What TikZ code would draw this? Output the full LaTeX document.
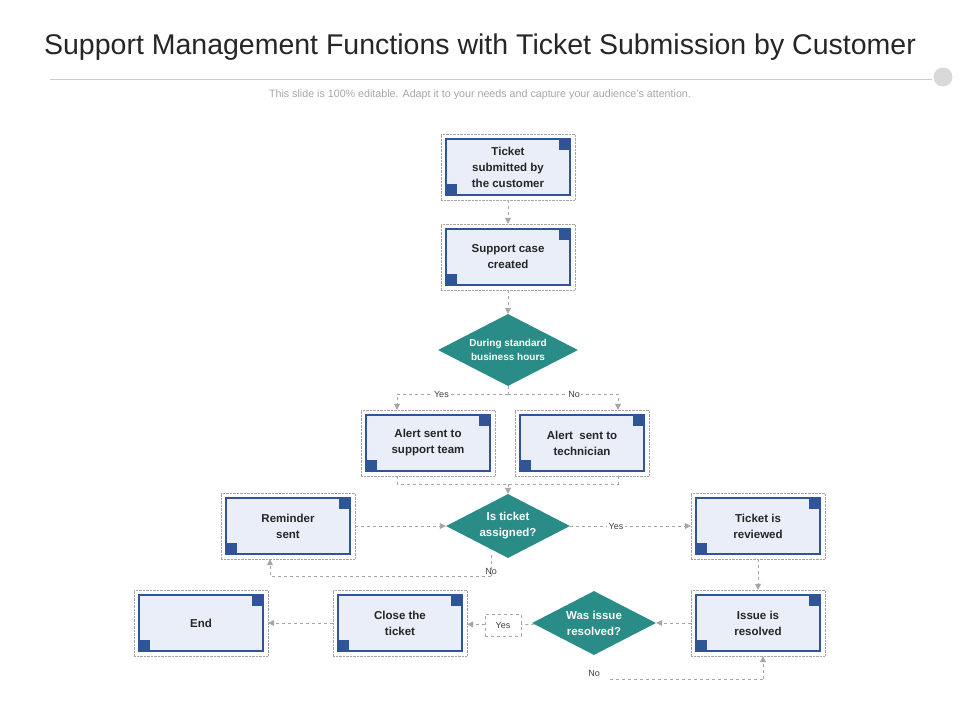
\documentclass[tikz,border=0pt]{standalone}
\usepackage{fontspec}
\setmainfont{Liberation Sans}
\usetikzlibrary{shapes.geometric,arrows.meta}
\definecolor{bord}{HTML}{2F5597}
\definecolor{bfill}{HTML}{E9EEF8}
\definecolor{teal}{HTML}{2A8C86}
\definecolor{conn}{HTML}{A6A6A6}
\begin{document}
\begin{tikzpicture}[x=1pt,y=-1pt,
  box/.style={draw=gray!70,densely dotted,minimum width=134pt,minimum height=66pt,
    path picture={
      \fill[bfill] ([shift={(4pt,4pt)}]path picture bounding box.south west) rectangle ([shift={(-4pt,-4pt)}]path picture bounding box.north east);
      \draw[bord,line width=2.5pt,solid] ([shift={(5pt,5pt)}]path picture bounding box.south west) rectangle ([shift={(-5pt,-5pt)}]path picture bounding box.north east);
      \fill[bord] ([shift={(5pt,5pt)}]path picture bounding box.south west) rectangle ++(11pt,11pt);
      \fill[bord] ([shift={(-5pt,-5pt)}]path picture bounding box.north east) rectangle ++(-11pt,-11pt);
    },
    font=\bfseries\fontsize{11.5}{16}\selectfont,align=center,text=black!85},
  dia/.style={diamond,fill=teal,inner sep=0pt,minimum width=#1,aspect=2,
    font=\bfseries\fontsize{10}{14}\selectfont,align=center,text=white},
  con/.style={draw=conn,dashed,line width=0.8pt,-{Triangle[length=6pt,width=6pt]}},
  lin/.style={draw=conn,dashed,line width=0.8pt},
  lab/.style={font=\fontsize{9}{10}\selectfont,text=black!75,fill=white,inner sep=1.5pt}]
\useasboundingbox (0,0) rectangle (960,720);
\node[font=\fontsize{28.5}{30}\selectfont,text=black!85] (title) at (480,47) {Support Management Functions with Ticket Submission by Customer};
\draw[gray!40,line width=1pt] (50,79) -- (932,79);
\node[circle,fill=gray!30,minimum size=19pt,inner sep=0pt] (dot) at (943,77) {};
\node[font=\fontsize{10.7}{12}\selectfont,text=gray!70] (sub) at (480,95) {This slide is 100\% editable. Adapt it to your needs and capture your audience's attention.};

\node[box] (t1) at (508,167) {Ticket\\submitted by\\the customer};
\node[box] (t2) at (508,257) {Support case\\created};
\node[dia=140pt,minimum height=72pt] (d1) at (508,350) {During standard\\business hours};
\node[box] (a1) at (428,443) {Alert sent to\\support team};
\node[box] (a2) at (582,443) {Alert\ \ sent to\\technician};
\node[dia=124pt,minimum height=64pt,font=\bfseries\fontsize{11.5}{16}\selectfont] (d2) at (508,526) {Is ticket\\assigned?};
\node[box] (r) at (288,526) {Reminder\\sent};
\node[box] (tr) at (758,526) {Ticket is\\reviewed};
\node[box] (ir) at (758,623) {Issue is\\resolved};
\node[dia=124pt,minimum height=64pt,font=\bfseries\fontsize{11.5}{16}\selectfont] (d3) at (594,623) {Was issue\\resolved?};
\node[box] (ct) at (400,623) {Close the\\ticket};
\node[box] (e) at (201,623) {End};

\coordinate (j1) at (508,394);
\coordinate (j2) at (508,484);
\draw[con] (t1) -- (t2);
\draw[con] (t2) -- (d1);
\draw[lin] (d1.south) -- (j1);
\draw[con] (j1) -| (a1.north -| 397,0) node[lab,pos=0.3] {Yes};
\draw[con] (j1) -| (a2.north -| 618,0) node[lab,pos=0.3] {No};
\draw[lin] (a1.south -| 397,0) |- (j2) -| (a2.south -| 618,0);
\draw[con] (j2) -- (d2.north);
\draw[con] (r) -- (d2);
\draw[con] (d2) -- node[lab,pos=0.38] {Yes} (tr);
\coordinate (n1) at (491,576);
\draw[lin] (491,555) -- (n1);
\draw[con] (n1) -| (r.south -| 270,0);
\node[lab,fill=none] (nol) at (491,571) {No};
\draw[con] (tr) -- (ir);
\draw[con] (ir) -- (d3);
\node[lab,draw=conn,dashed,minimum width=36pt,minimum height=22pt] (yl) at (503,625) {Yes};
\draw[lin] (d3) -- (yl);
\draw[con] (yl) -- (ct);
\draw[con] (ct) -- (e);
\node[lab] (no3) at (594,673) {No};
\coordinate (n3) at (763,679);
\draw[lin] (610,679) -- (n3);
\draw[con] (n3) -- (ir.south -| n3);
\end{tikzpicture}
\end{document}
